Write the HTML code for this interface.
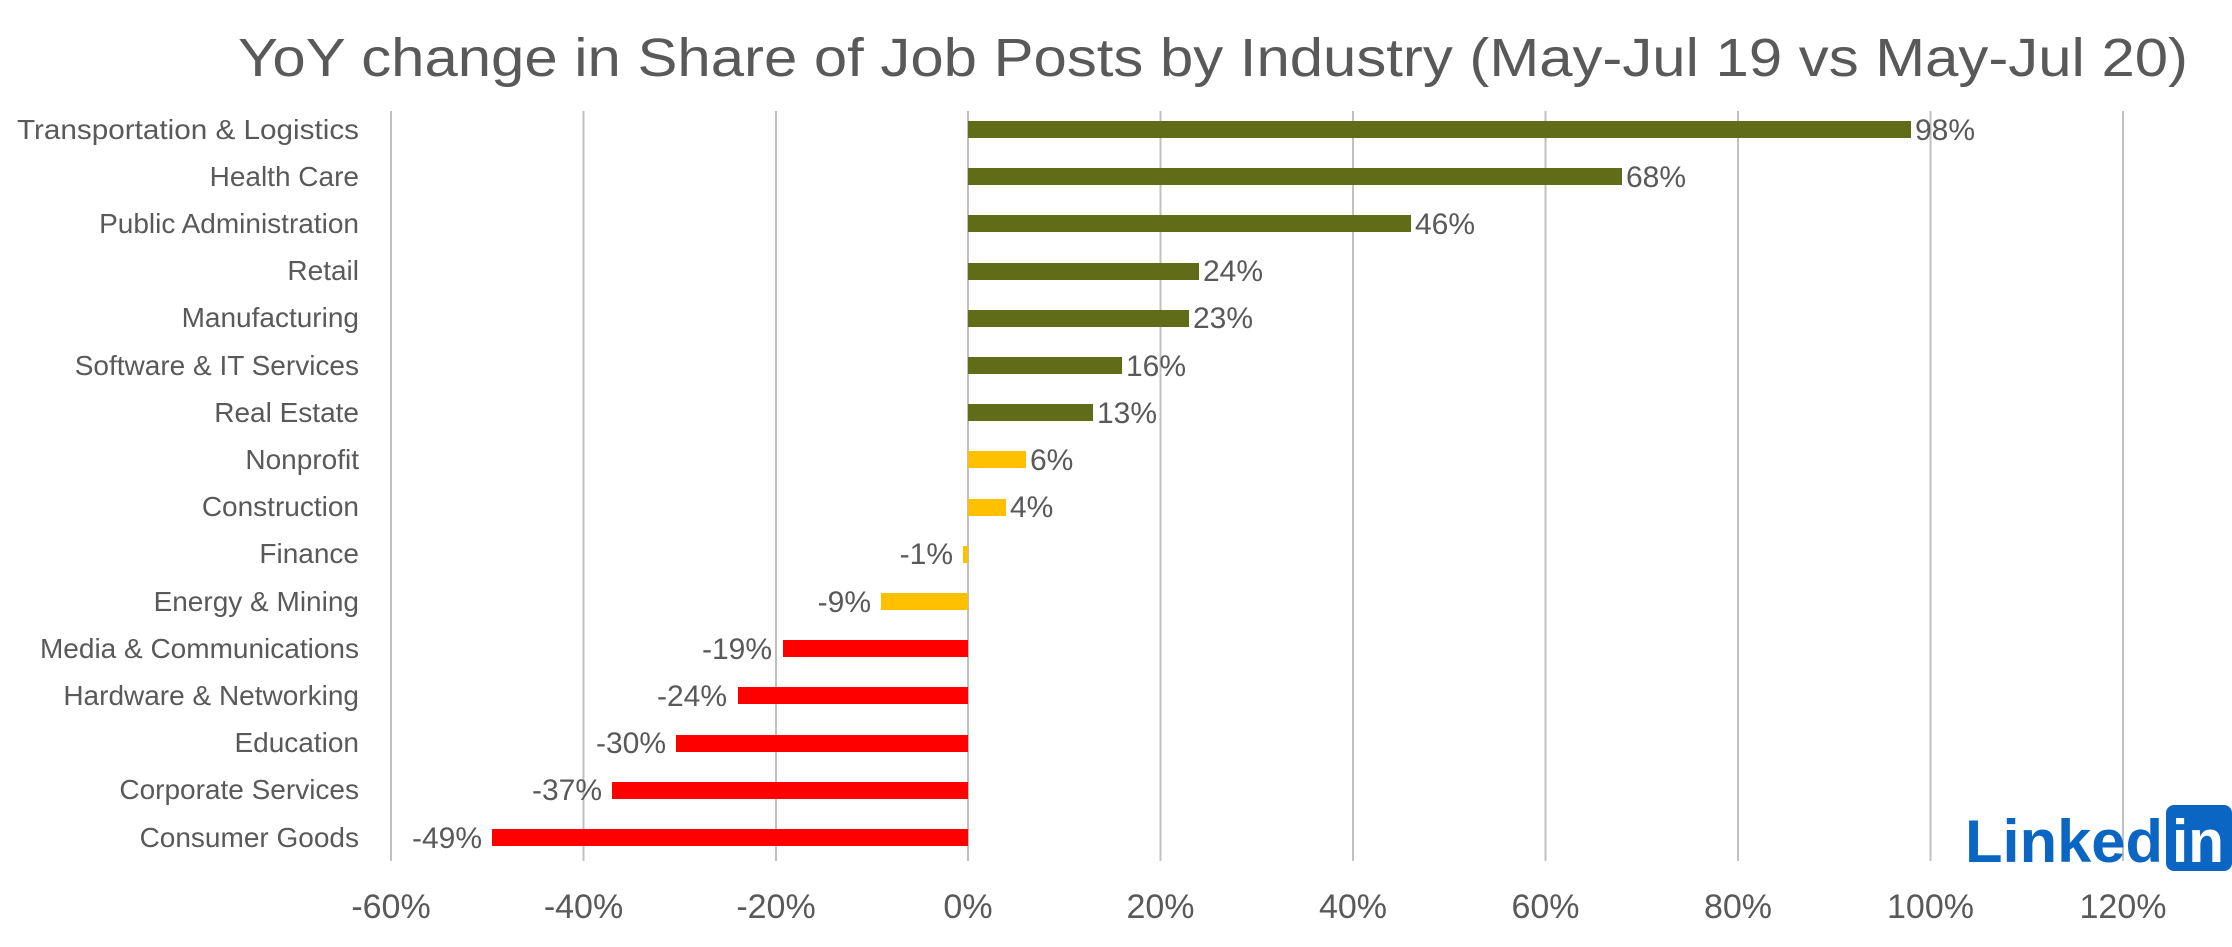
<!DOCTYPE html>
<html><head><meta charset="utf-8"><style>
html,body{margin:0;padding:0;background:#fff;width:2232px;height:947px;overflow:hidden}
svg{display:block}
text{font-family:"Liberation Sans",sans-serif;fill:#595959}
</style></head><body>
<svg width="2232" height="947" viewBox="0 0 2232 947" xmlns="http://www.w3.org/2000/svg">
<text x="1213" y="76" font-size="54" text-anchor="middle" textLength="1950" lengthAdjust="spacingAndGlyphs">YoY change in Share of Job Posts by Industry (May-Jul 19 vs May-Jul 20)</text>
<g stroke="#c0c0c0" stroke-width="2">
<line x1="391" y1="111" x2="391" y2="861"/><line x1="583.5" y1="111" x2="583.5" y2="861"/><line x1="776" y1="111" x2="776" y2="861"/><line x1="968" y1="111" x2="968" y2="861"/><line x1="1160.5" y1="111" x2="1160.5" y2="861"/><line x1="1353" y1="111" x2="1353" y2="861"/><line x1="1545.5" y1="111" x2="1545.5" y2="861"/><line x1="1738" y1="111" x2="1738" y2="861"/><line x1="1930.5" y1="111" x2="1930.5" y2="861"/><line x1="2123" y1="111" x2="2123" y2="861"/>
</g>
<g font-size="34" text-anchor="middle">
<text x="391" y="918">-60%</text><text x="583.5" y="918">-40%</text><text x="776" y="918">-20%</text><text x="968" y="918">0%</text><text x="1160.5" y="918">20%</text><text x="1353" y="918">40%</text><text x="1545.5" y="918">60%</text><text x="1738" y="918">80%</text><text x="1930.5" y="918">100%</text><text x="2123" y="918">120%</text>
</g>
<g font-size="28" text-anchor="end">
<text x="359" y="139" textLength="342" lengthAdjust="spacingAndGlyphs">Transportation &amp; Logistics</text>
<text x="359" y="186">Health Care</text>
<text x="359" y="233">Public Administration</text>
<text x="359" y="280">Retail</text>
<text x="359" y="327">Manufacturing</text>
<text x="359" y="375">Software &amp; IT Services</text>
<text x="359" y="422">Real Estate</text>
<text x="359" y="469">Nonprofit</text>
<text x="359" y="516">Construction</text>
<text x="359" y="563">Finance</text>
<text x="359" y="611">Energy &amp; Mining</text>
<text x="359" y="658">Media &amp; Communications</text>
<text x="359" y="705">Hardware &amp; Networking</text>
<text x="359" y="752">Education</text>
<text x="359" y="799">Corporate Services</text>
<text x="359" y="847">Consumer Goods</text>
</g>
<g>
<rect x="968" y="121" width="943" height="17" fill="#606c18"/>
<rect x="968" y="168" width="654" height="17" fill="#606c18"/>
<rect x="968" y="215" width="443" height="17" fill="#606c18"/>
<rect x="968" y="263" width="231" height="17" fill="#606c18"/>
<rect x="968" y="310" width="221" height="17" fill="#606c18"/>
<rect x="968" y="357" width="154" height="17" fill="#606c18"/>
<rect x="968" y="404" width="125" height="17" fill="#606c18"/>
<rect x="968" y="451" width="58" height="17" fill="#ffc000"/>
<rect x="968" y="499" width="38" height="17" fill="#ffc000"/>
<rect x="963" y="546" width="5" height="17" fill="#ffc000"/>
<rect x="881" y="593" width="87" height="17" fill="#ffc000"/>
<rect x="783" y="640" width="185" height="17" fill="#ff0000"/>
<rect x="738" y="687" width="230" height="17" fill="#ff0000"/>
<rect x="676" y="735" width="292" height="17" fill="#ff0000"/>
<rect x="612" y="782" width="356" height="17" fill="#ff0000"/>
<rect x="492" y="829" width="476" height="17" fill="#ff0000"/>
</g>
<g font-size="30">
<text x="1915" y="140">98%</text><text x="1626" y="187">68%</text><text x="1415" y="234">46%</text><text x="1203" y="281">24%</text><text x="1193" y="328">23%</text><text x="1126" y="376">16%</text><text x="1097" y="423">13%</text><text x="1030" y="470">6%</text><text x="1010" y="517">4%</text>
</g>
<g font-size="30" text-anchor="end">
<text x="953" y="564">-1%</text><text x="871" y="612">-9%</text><text x="772" y="659">-19%</text><text x="727" y="706">-24%</text><text x="666" y="753">-30%</text><text x="602" y="800">-37%</text><text x="482" y="848">-49%</text>
</g>
<g>
<text x="1965" y="862" font-size="60" font-weight="bold" style="fill:#0a66c2" textLength="198" lengthAdjust="spacingAndGlyphs">Linked</text>
<rect x="2166" y="805" width="66" height="66" rx="8" fill="#0a66c2"/>
<text x="2172" y="862" font-size="60" font-weight="bold" style="fill:#fff" textLength="52" lengthAdjust="spacingAndGlyphs">in</text>
</g>
</svg>
</body></html>
